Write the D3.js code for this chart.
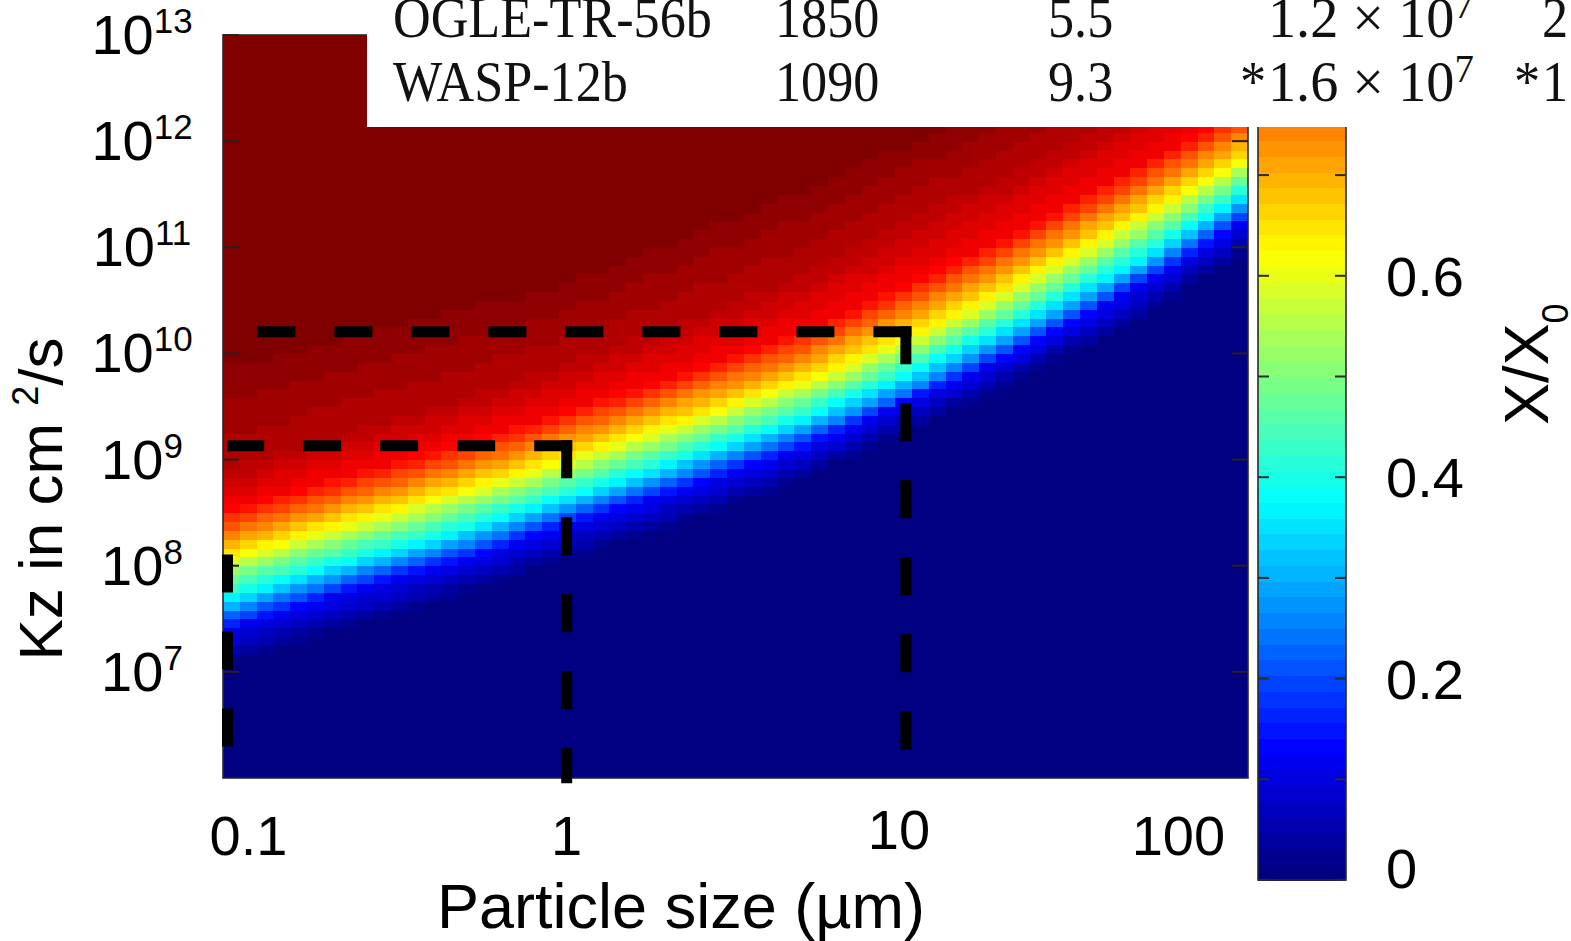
<!DOCTYPE html>
<html><head><meta charset="utf-8">
<script src="https://cdn.jsdelivr.net/npm/d3@7/dist/d3.min.js"></script>
<style>html,body{margin:0;padding:0;background:#fff;overflow:hidden}</style>
</head><body><svg id="c" width="1571" height="941"></svg>
<script>
// ---------------- data ----------------
// particle sizes (µm) at which the colour contours were read
const sizeSamples = [0.1, 0.2, 0.5, 1, 2, 5, 10, 20, 50, 100];
// X/X0 contour levels and the log10(Kz) where each level is reached at each size
const contourLevels = [1.0, 0.9375, 0.875, 0.75, 0.625, 0.5, 0.375, 0.25, 0.125, 0.0];
const logKzLevel100 = [10.2, 10.4, 10.7, 10.9, 11.3, 11.8, 12.2, 12.7, 13.4, 14.0];
const logKzLevel094 = [8.90, 9.20, 9.58, 9.92, 10.25, 10.75, 11.25, 11.70, 12.35, 12.9];
const logKzLevel088 = [8.55, 8.82, 9.17, 9.47, 9.78, 10.22, 10.66, 11.12, 11.80, 12.34];
const logKzLevel075 = [8.29, 8.58, 8.93, 9.24, 9.55, 9.98, 10.41, 10.86, 11.55, 12.08];
const logKzLevel063 = [8.08, 8.36, 8.71, 9.01, 9.32, 9.75, 10.14, 10.61, 11.30, 11.84];
const logKzLevel050 = [7.91, 8.19, 8.54, 8.84, 9.15, 9.58, 9.97, 10.43, 11.12, 11.68];
const logKzLevel038 = [7.70, 7.99, 8.34, 8.65, 8.96, 9.39, 9.80, 10.25, 10.91, 11.52];
const logKzLevel025 = [7.55, 7.85, 8.20, 8.51, 8.82, 9.25, 9.64, 10.10, 10.78, 11.37];
const logKzLevel013 = [7.41, 7.71, 8.06, 8.38, 8.68, 9.11, 9.54, 9.97, 10.65, 11.25];
const logKzLevel000 = [7.04, 7.33, 7.70, 8.02, 8.32, 8.78, 9.22, 9.66, 10.30, 10.93];
const contourRows = [logKzLevel100, logKzLevel094, logKzLevel088, logKzLevel075, logKzLevel063,
                     logKzLevel050, logKzLevel038, logKzLevel025, logKzLevel013, logKzLevel000];

// dashed guide corners
const guideSize = [0.1, 1, 10];
const guideKz = [1.13e8, 1.35e9, 1.6e10];

// axes
const xTickValues = [0.1, 1, 10, 100];
const xTickLabels = ["0.1", "1", "10", "100"];
const yTickValues = [1e7, 1e8, 1e9, 1e10, 1e11, 1e12, 1e13];
const yTickExp = ["7", "8", "9", "10", "11", "12", "13"];
const cbTickValues = [0, 0.1, 0.2, 0.3, 0.4, 0.5, 0.6, 0.7, 0.8, 0.9];
const cbLabelValues = [0, 0.2, 0.4, 0.6];
const cbLabels = ["0", "0.2", "0.4", "0.6"];

// table fragment
const tableNames = ["OGLE-TR-56b", "WASP-12b"];
const tableTemp = ["1850", "1090"];
const tableCol3 = ["5.5", "9.3"];
const tableCol4Prefix = ["", "*"];
const tableCol4Mant = ["1.2", "1.6"];
const tableCol4Exp = ["7", "7"];
const tableCol5Prefix = ["", "*"];
const tableCol5 = ["2", "1"];

// ---------------- drawing ----------------
const svg = d3.select("#c");
const sans = "'Liberation Sans', Arial, Helvetica, sans-serif";
const serif = "'Liberation Serif', 'Times New Roman', Times, serif";

const x = d3.scaleLog().domain([0.097, 102]).range([223, 1248]);
const y = d3.scaleLog().domain([1e6, 1e13]).range([778, 35]);

function clamp01(v){ return Math.max(0, Math.min(1, v)); }
function jet(v){
  const r = clamp01(1.5 - Math.abs(4*v - 3));
  const g = clamp01(1.5 - Math.abs(4*v - 2));
  const b = clamp01(1.5 - Math.abs(4*v - 1));
  return d3.rgb(Math.round(r*255), Math.round(g*255), Math.round(b*255)).toString();
}
function jetQ(v){ const k = Math.max(0, Math.min(63, Math.floor(v*64))); return jet(k/63); }

// per-level interpolators across particle size
const logSizes = sizeSamples.map(Math.log10);
const levelInterp = contourRows.map(arr => d3.scaleLinear().domain(logSizes).range(arr));

svg.append("defs").append("clipPath").attr("id", "plotClip")
  .append("rect").attr("x", 223).attr("y", 35).attr("width", 1025).attr("height", 743);

const heat = svg.append("g").attr("clip-path", "url(#plotClip)").attr("shape-rendering", "crispEdges");
const nCols = 61, nRows = 84;
const lx0 = Math.log10(0.097), lx1 = Math.log10(102);
const cells = [];
for (let j = 0; j < nCols; j++) {
  const a = lx0 + j*(lx1-lx0)/nCols, b = lx0 + (j+1)*(lx1-lx0)/nCols, c = (a+b)/2;
  const Ls = levelInterp.map(f => f(c)).reverse();           // ascending
  const lv = contourLevels.slice().reverse();                 // ascending 0..1
  const valueAt = d3.scaleLinear().domain(Ls).range(lv).clamp(true);
  for (let i = 0; i < nRows; i++) {
    const L0 = 6 + i/12, L1 = 6 + (i+1)/12;
    cells.push({s0: Math.pow(10, a), s1: Math.pow(10, b), k0: Math.pow(10, L0), k1: Math.pow(10, L1), v: valueAt((L0+L1)/2)});
  }
}
heat.selectAll("rect").data(cells).join("rect")
  .attr("x", d => x(d.s0)).attr("width", d => x(d.s1) - x(d.s0) + 0.6)
  .attr("y", d => y(d.k1)).attr("height", d => y(d.k0) - y(d.k1) + 0.6)
  .attr("fill", d => jetQ(d.v));

// plot frame
svg.append("rect").attr("x", 223).attr("y", 35).attr("width", 1025).attr("height", 743)
  .attr("fill", "none").attr("stroke", "#2a2a2a").attr("stroke-width", 1.6);

// y ticks (inside, both sides)
const yt = svg.append("g").attr("stroke", "#2a2020").attr("stroke-width", 2);
yTickValues.forEach(v => {
  yt.append("line").attr("x1", 223).attr("x2", 239).attr("y1", y(v)).attr("y2", y(v));
  yt.append("line").attr("x1", 1232).attr("x2", 1248).attr("y1", y(v)).attr("y2", y(v));
});

// dashed guides
const guides = svg.append("g").attr("fill", "none").attr("stroke", "#000")
  .attr("stroke-width", 11).attr("stroke-dasharray", "38,39").attr("stroke-linecap", "butt");
guideSize.forEach((s, i) => {
  const cx = x(s), cy = y(guideKz[i]);
  if (x(s) - x(guideSize[0]) > 1)
    guides.append("path").attr("d", `M${cx + 5.5},${cy} L${x(guideSize[0])},${cy}`);
  guides.append("path").attr("d", `M${cx},${cy - 5.5} L${cx},${y(Math.pow(10, 5.95))}`);
});

// colorbar
const cb = d3.scaleLinear().domain([0, 1]).range([880, 880 - 1007]);
const cbg = svg.append("g").attr("shape-rendering", "crispEdges");
cbg.selectAll("rect").data(d3.range(64)).join("rect")
  .attr("x", 1258).attr("width", 88)
  .attr("y", k => cb((k+1)/64)).attr("height", k => cb(k/64) - cb((k+1)/64) + 0.6)
  .attr("fill", k => jet(k/63));
svg.append("rect").attr("x", 1258).attr("y", cb(1)).attr("width", 88).attr("height", cb(0) - cb(1))
  .attr("fill", "none").attr("stroke", "#2a2a2a").attr("stroke-width", 1.6);
const cbt = svg.append("g").attr("stroke", "#2a2a2a").attr("stroke-width", 2);
cbTickValues.forEach(v => {
  cbt.append("line").attr("x1", 1258).attr("x2", 1269).attr("y1", cb(v)).attr("y2", cb(v));
  cbt.append("line").attr("x1", 1335).attr("x2", 1346).attr("y1", cb(v)).attr("y2", cb(v));
});
svg.append("g").selectAll("text").data(cbLabelValues).join("text")
  .attr("x", 1386).attr("y", d => Math.min(cb(d) + 20, 888))
  .attr("font-family", sans).attr("font-size", 56).attr("fill", "#000")
  .text((d, i) => cbLabels[i]);

// table fragment (white box overlay)
svg.append("rect").attr("x", 367).attr("y", 0).attr("width", 1204).attr("height", 127).attr("fill", "#fff");
const tg = svg.append("g").attr("font-family", serif).attr("font-size", 58).attr("fill", "#111");
const rowBase = [37, 101];
function ttext(px, py, anchor, sx){
  return tg.append("text").attr("transform", `translate(${px},${py}) scale(${sx || 0.9},1)`).attr("text-anchor", anchor || "start");
}
tableNames.forEach((n, r) => {
  const b = rowBase[r];
  ttext(393, b).text(n);
  ttext(775, b).text(tableTemp[r]);
  ttext(1048, b).text(tableCol3[r]);
  if (tableCol4Prefix[r]) ttext(1266, b, "end").text(tableCol4Prefix[r]);
  const t4 = ttext(1268, b, "start", 0.97);
  t4.append("tspan").text(tableCol4Mant[r] + " \u00d7 10");
  t4.append("tspan").attr("font-size", 40).attr("dy", -19).text(tableCol4Exp[r]);
  if (tableCol5Prefix[r]) ttext(1540, b, "end").text(tableCol5Prefix[r]);
  ttext(1542, b).text(tableCol5[r]);
});

// y tick labels
const ylab = svg.append("g").attr("font-family", sans).attr("fill", "#000");
yTickValues.forEach((v, i) => {
  const t = ylab.append("text").attr("x", 142).attr("y", y(v) + 19).attr("text-anchor", "middle").attr("font-size", 56);
  t.append("tspan").text("10");
  t.append("tspan").attr("font-size", 35).attr("dy", -21).text(yTickExp[i]);
});

// x tick labels
svg.append("g").selectAll("text").data(xTickValues).join("text")
  .attr("x", (d, i) => i === 0 ? x(d) - 18 : (i === xTickValues.length - 1 ? x(d) - 20 : x(d) - (d === 10 ? 7 : 0)))
  .attr("text-anchor", (d, i) => i === 0 ? "start" : (i === xTickValues.length - 1 ? "end" : "middle"))
  .attr("y", d => d === 10 ? 849 : 855).attr("font-family", sans).attr("font-size", 56).attr("fill", "#000")
  .text((d, i) => xTickLabels[i]);

// axis titles
svg.append("text").attr("x", 681).attr("y", 928).attr("text-anchor", "middle")
  .attr("font-family", sans).attr("font-size", 63).attr("fill", "#000").text("Particle size (\u00b5m)");

const yTitle = svg.append("text").attr("transform", "translate(62,499) rotate(-90)")
  .attr("text-anchor", "middle").attr("font-family", sans).attr("font-size", 62).attr("fill", "#000");
yTitle.append("tspan").text("Kz in cm ");
yTitle.append("tspan").attr("font-size", 36).attr("dy", -24).text("2");
yTitle.append("tspan").attr("dy", 24).text("/s");

const cTitle = svg.append("text").attr("transform", "translate(1548,425) rotate(-90)")
  .attr("text-anchor", "start").attr("font-family", sans).attr("font-size", 63).attr("fill", "#000");
cTitle.append("tspan").text("X/X");
cTitle.append("tspan").attr("font-size", 36).attr("dy", 20).text("0");
</script>
</body></html>
